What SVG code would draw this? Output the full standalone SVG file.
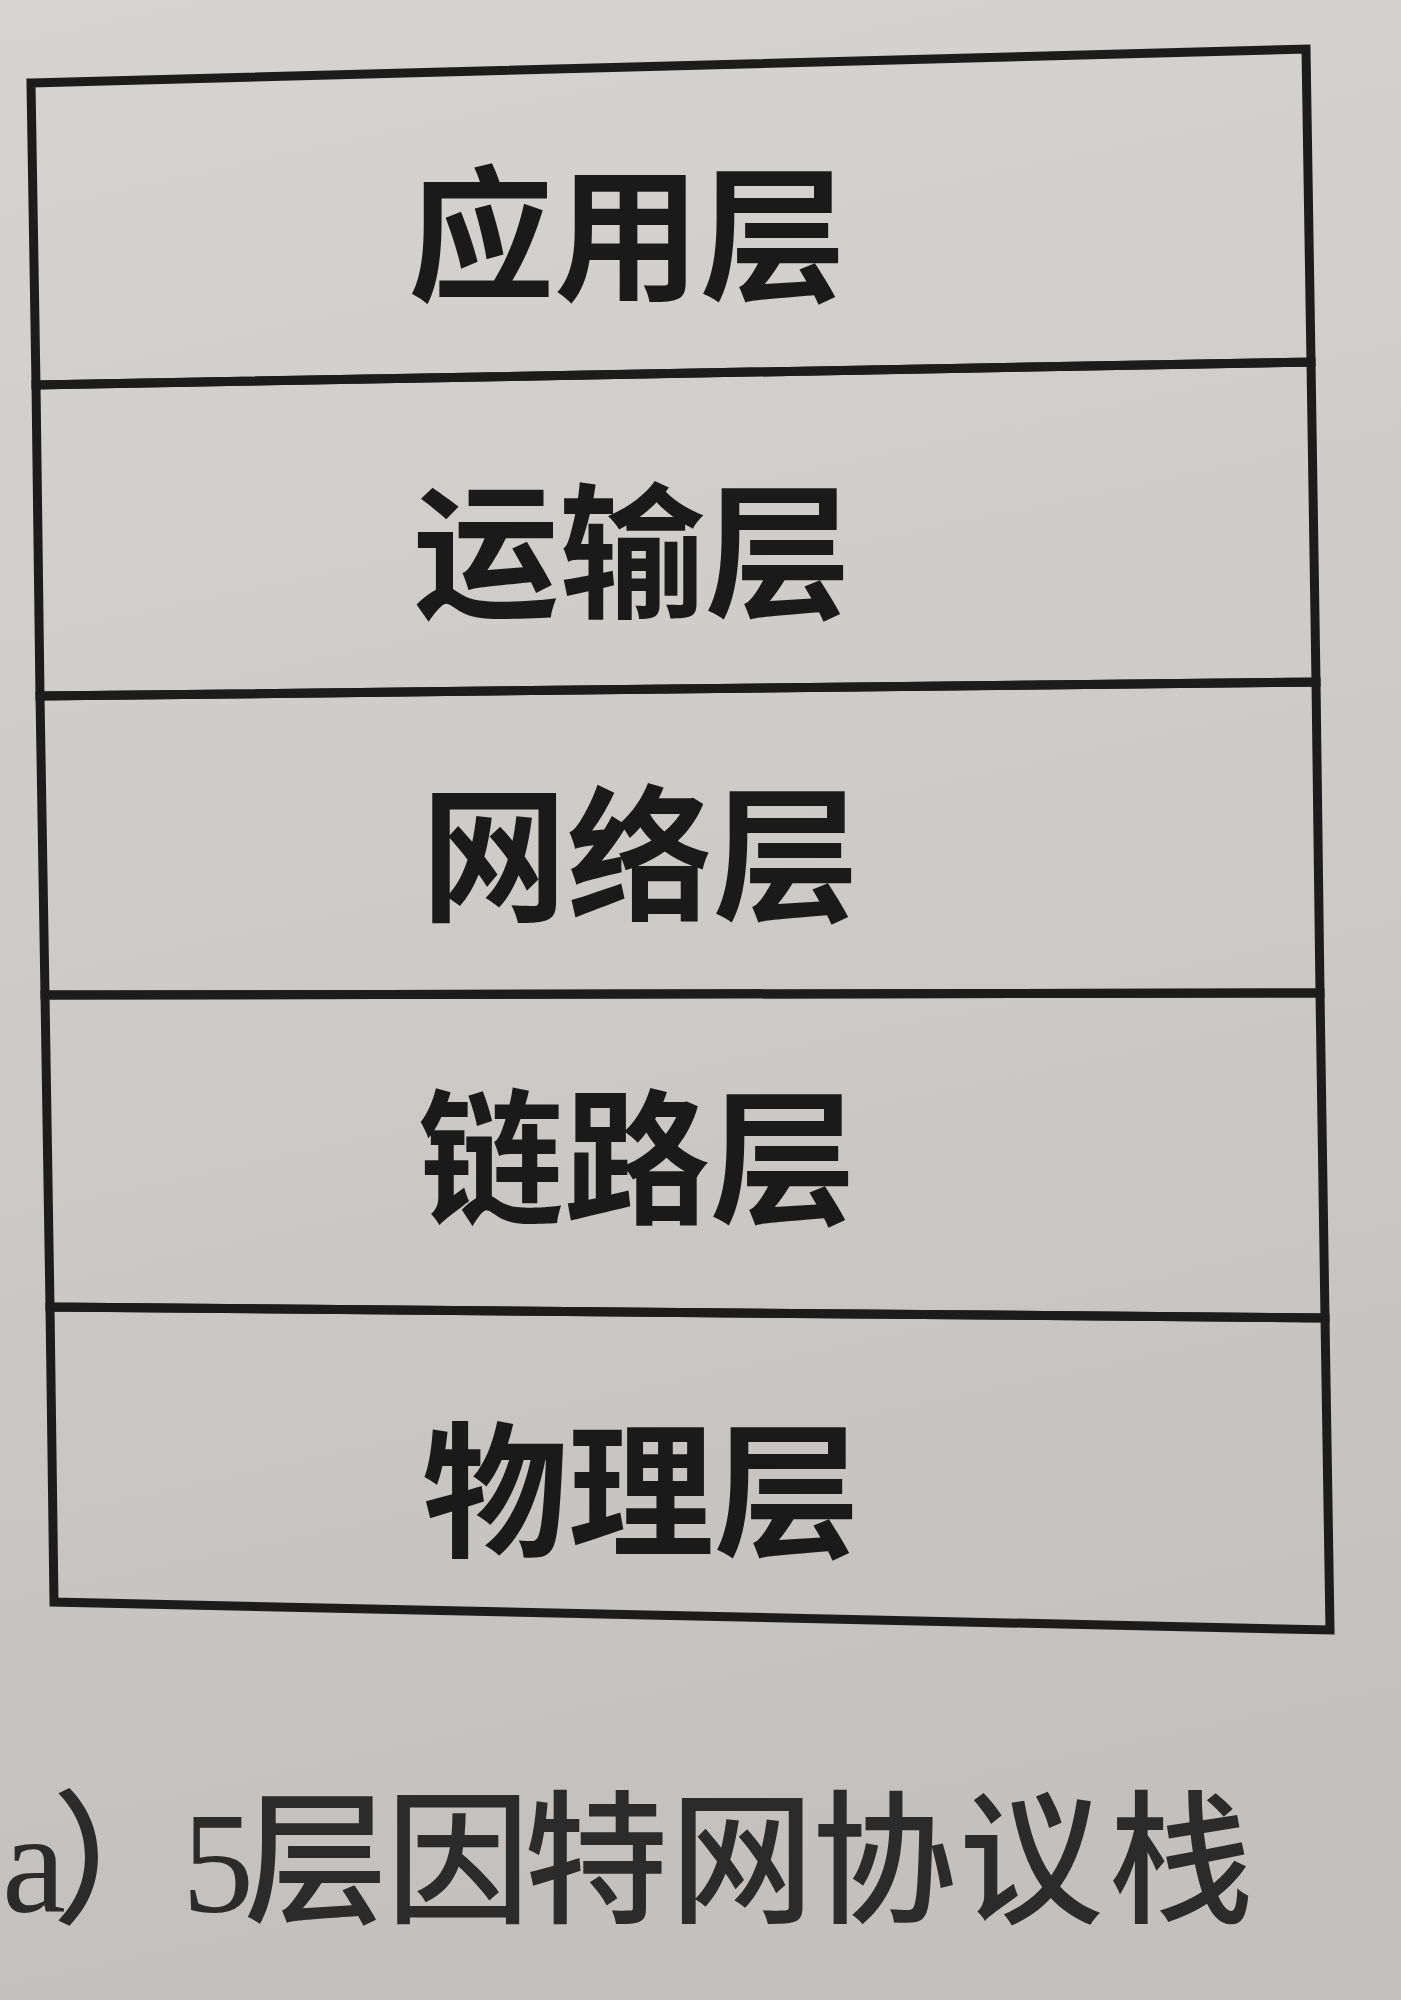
<svg xmlns="http://www.w3.org/2000/svg" width="1401" height="2000" viewBox="0 0 1401 2000">
  <defs>
    <linearGradient id="paper" x1="0" y1="0" x2="0.15" y2="1">
      <stop offset="0" stop-color="#d5d4d1"/>
      <stop offset="0.5" stop-color="#cdcbc8"/>
      <stop offset="1" stop-color="#c3c0bd"/>
    </linearGradient>
  </defs>
  <style>
    .layer { fill: none; stroke: #1c1c1c; stroke-width: 9; stroke-linejoin: miter; }
    .label { font-family: "Noto Sans CJK SC", "Noto Sans CJK TC", sans-serif; font-size: 146px; font-weight: 600; fill: #1a1a1a; text-anchor: middle; }
    .caption { font-family: "Liberation Serif", "Noto Sans CJK SC", serif; font-size: 144px; font-weight: 500; fill: #2b2b2b; }
  </style>
  <rect x="0" y="0" width="1401" height="2000" fill="url(#paper)"/>

  <g id="application-layer">
    <polygon class="layer" points="31,83 1306,49 1311,362 36,385"/>
    <text class="label" x="627" y="289">应用层</text>
  </g>
  <g id="transport-layer">
    <polygon class="layer" points="36,385 1311,362 1316,682 40,696"/>
    <text class="label" x="632" y="606">运输层</text>
  </g>
  <g id="network-layer">
    <polygon class="layer" points="40,696 1316,682 1320,993 45,995"/>
    <text class="label" x="640" y="909">网络层</text>
  </g>
  <g id="link-layer">
    <polygon class="layer" points="45,995 1320,993 1325,1318 50,1307"/>
    <text class="label" x="637" y="1212">链路层</text>
  </g>
  <g id="physical-layer">
    <polygon class="layer" points="50,1307 1325,1318 1330,1630 54,1602"/>
    <text class="label" x="641" y="1545">物理层</text>
  </g>

  <g id="connectors"></g>

  <g id="caption">
    <text class="caption" x="2 52 182 244 386 524 670 812 959 1109" y="1912">a）5层因特网协议栈</text>
  </g>
</svg>
